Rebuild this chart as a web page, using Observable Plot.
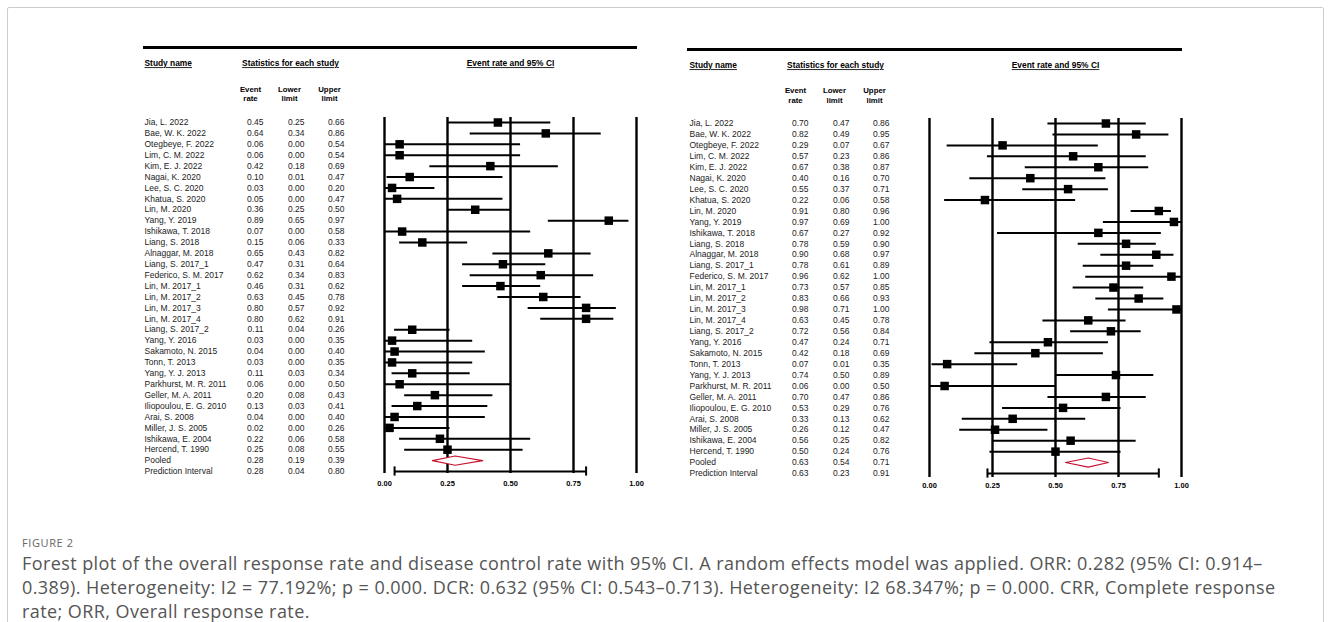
<!DOCTYPE html>
<html><head><meta charset="utf-8">
<script src="https://cdn.jsdelivr.net/npm/d3@7"></script>
<script src="https://cdn.jsdelivr.net/npm/@observablehq/plot@0.6"></script>
<style>
body{margin:0;background:#fff;width:1331px;height:622px;overflow:hidden;position:relative;font-family:"Liberation Sans",Arial,sans-serif}
#frame{position:absolute;left:7px;top:7px;width:1315px;height:700px;border:1px solid #ccc;border-radius:2px}
#left{position:absolute;left:0;top:0}
#right{position:absolute;left:660px;top:0}
#fig{position:absolute;left:22px;top:535px;font:11px "Open Sans",sans-serif;color:#666;letter-spacing:.6px}
#cap{position:absolute;left:22px;top:551px;font:18px/24px "Open Sans",sans-serif;color:#555;white-space:nowrap;letter-spacing:0.42px}
svg text{font-family:"Liberation Sans",Arial,sans-serif}
</style></head>
<body>
<div id="frame"></div>
<div id="left"></div>
<div id="right"></div>
<div id="fig">FIGURE 2</div>
<div id="cap">Forest plot of the overall response rate and disease control rate with 95% CI. A random effects model was applied. ORR: 0.282 (95% CI: 0.914–<br>0.389). Heterogeneity: I2 = 77.192%; p = 0.000. DCR: 0.632 (95% CI: 0.543–0.713). Heterogeneity: I2 68.347%; p = 0.000. CRR, Complete response<br>rate; ORR, Overall response rate.</div>
<script>
const studies = ["Jia, L. 2022","Bae, W. K. 2022","Otegbeye, F. 2022","Lim, C. M. 2022","Kim, E. J. 2022","Nagai, K. 2020","Lee, S. C. 2020","Khatua, S. 2020","Lin, M. 2020","Yang, Y. 2019","Ishikawa, T. 2018","Liang, S. 2018","Alnaggar, M. 2018","Liang, S. 2017_1","Federico, S. M. 2017","Lin, M. 2017_1","Lin, M. 2017_2","Lin, M. 2017_3","Lin, M. 2017_4","Liang, S. 2017_2","Yang, Y. 2016","Sakamoto, N. 2015","Tonn, T. 2013","Yang, Y. J. 2013","Parkhurst, M. R. 2011","Geller, M. A. 2011","Iliopoulou, E. G. 2010","Arai, S. 2008","Miller, J. S. 2005","Ishikawa, E. 2004","Hercend, T. 1990","Pooled","Prediction Interval"];

const orrRate  = [0.45,0.64,0.06,0.06,0.42,0.10,0.03,0.05,0.36,0.89,0.07,0.15,0.65,0.47,0.62,0.46,0.63,0.80,0.80,0.11,0.03,0.04,0.03,0.11,0.06,0.20,0.13,0.04,0.02,0.22,0.25,0.28,0.28];
const orrLower = [0.25,0.34,0.00,0.00,0.18,0.01,0.00,0.00,0.25,0.65,0.00,0.06,0.43,0.31,0.34,0.31,0.45,0.57,0.62,0.04,0.00,0.00,0.00,0.03,0.00,0.08,0.03,0.00,0.00,0.06,0.08,0.19,0.04];
const orrUpper = [0.66,0.86,0.54,0.54,0.69,0.47,0.20,0.47,0.50,0.97,0.58,0.33,0.82,0.64,0.83,0.62,0.78,0.92,0.91,0.26,0.35,0.40,0.35,0.34,0.50,0.43,0.41,0.40,0.26,0.58,0.55,0.39,0.80];

const dcrRate  = [0.70,0.82,0.29,0.57,0.67,0.40,0.55,0.22,0.91,0.97,0.67,0.78,0.90,0.78,0.96,0.73,0.83,0.98,0.63,0.72,0.47,0.42,0.07,0.74,0.06,0.70,0.53,0.33,0.26,0.56,0.50,0.63,0.63];
const dcrLower = [0.47,0.49,0.07,0.23,0.38,0.16,0.37,0.06,0.80,0.69,0.27,0.59,0.68,0.61,0.62,0.57,0.66,0.71,0.45,0.56,0.24,0.18,0.01,0.50,0.00,0.47,0.29,0.13,0.12,0.25,0.24,0.54,0.23];
const dcrUpper = [0.86,0.95,0.67,0.86,0.87,0.70,0.71,0.58,0.96,1.00,0.92,0.90,0.97,0.89,1.00,0.85,0.93,1.00,0.78,0.84,0.71,0.69,0.35,0.89,0.50,0.86,0.76,0.62,0.47,0.82,0.76,0.71,0.91];

const axisTicks = [0, 0.25, 0.5, 0.75, 1];
const headerStudy = "Study name";
const headerStats = "Statistics for each study";
const headerPlot = "Event rate and 95% CI";
const colHeaders = ["Event\nrate", "Lower\nlimit", "Upper\nlimit"];
const underlined = [headerStudy, headerStats, headerPlot];

const fmt = d3.format(".2f");

function panel(rate, lower, upper, cfg) {
  const rows = studies.map((name, i) => ({i, name, rate: rate[i], lower: lower[i], upper: upper[i]}));
  const n = rows.length;
  const indiv = rows.slice(0, n - 2);
  const pooled = rows[n - 2];
  const pi = rows[n - 1];
  const dh = 0.42;
  const diamond = [
    {x: pooled.lower, y: pooled.i}, {x: pooled.rate, y: pooled.i - dh},
    {x: pooled.upper, y: pooled.i}, {x: pooled.rate, y: pooled.i + dh},
    {x: pooled.lower, y: pooled.i}
  ];
  const colDx = [-121, -80, -40];
  const headDx = [-134, -95, -55];
  const zero = () => 0;
  const svg = Plot.plot({
    width: cfg.width, height: 500, margin: 0,
    style: {background: "transparent", color: "black", fontFamily: "Liberation Sans, Arial, sans-serif"},
    x: {domain: [0, 1], range: [cfg.x0, cfg.x0 + 252], axis: null},
    y: {domain: [0, n - 1], range: [cfg.row0, cfg.rowN], axis: null},
    marks: [
      // top heavy rule
      Plot.ruleY([0], {y: zero, x1: zero, x2: () => 1, dy: cfg.ruleDy, insetLeft: cfg.ruleInsetL, insetRight: -1, strokeWidth: 3.2, stroke: "black"}),
      // headers
      Plot.text([headerStudy], {x: zero, y: zero, dx: -240, dy: cfg.headDy, textAnchor: "start", fontWeight: "bold", fontSize: 8.4}),
      Plot.text([headerStats], {x: zero, y: zero, dx: -94, dy: cfg.headDy, textAnchor: "middle", fontWeight: "bold", fontSize: 8.4}),
      Plot.text([headerPlot], {x: () => 0.5, y: zero, dy: cfg.headDy, textAnchor: "middle", fontWeight: "bold", fontSize: 8.4}),
      ...colHeaders.map((h, k) => Plot.text([h], {x: zero, y: zero, dx: headDx[k], dy: cfg.subDy, textAnchor: "middle", fontWeight: "bold", fontSize: 7.8, lineHeight: 1.25})),
      // vertical reference lines
      Plot.ruleX(axisTicks, {x: d => d, y1: zero, y2: () => n - 1, insetTop: -5, insetBottom: cfg.vInsetB, strokeWidth: 2.4, stroke: "black"}),
      // confidence intervals
      Plot.ruleY(indiv, {y: "i", x1: "lower", x2: "upper", strokeWidth: 2, stroke: "black"}),
      Plot.dot(indiv, {x: "rate", y: "i", symbol: "square", r: 4.8, fill: "black", stroke: null}),
      // pooled diamond
      Plot.line(diamond, {x: "x", y: "y", stroke: "#c8102e", strokeWidth: 1.1, fill: "white"}),
      // prediction interval
      Plot.ruleY([pi], {y: "i", x1: "lower", x2: "upper", strokeWidth: 2, stroke: "black"}),
      Plot.ruleX([pi.lower, pi.upper], {x: d => d, y1: () => pi.i - dh, y2: () => pi.i + dh, strokeWidth: 2, stroke: "black"}),
      // table
      Plot.text(rows, {x: zero, y: "i", text: "name", dx: -240, textAnchor: "start", fontSize: 8.5, fill: "#222"}),
      Plot.text(rows, {x: zero, y: "i", text: d => fmt(d.rate), dx: colDx[0], textAnchor: "end", fontSize: 8.5, fill: "#222"}),
      Plot.text(rows, {x: zero, y: "i", text: d => fmt(d.lower), dx: colDx[1], textAnchor: "end", fontSize: 8.5, fill: "#222"}),
      Plot.text(rows, {x: zero, y: "i", text: d => fmt(d.upper), dx: colDx[2], textAnchor: "end", fontSize: 8.5, fill: "#222"}),
      // tick labels
      Plot.text(axisTicks, {x: d => d, y: () => n - 1, dy: 12, text: d => fmt(d), fontWeight: "bold", fontSize: 7.5})
    ]
  });
  d3.select(svg).selectAll("text")
    .filter(function() { return underlined.includes(this.textContent); })
    .attr("text-decoration", "underline");
  return svg;
}

document.getElementById("left").append(panel(orrRate, orrLower, orrUpper,
  {width: 660, x0: 384, row0: 122, rowN: 471, ruleDy: -75, ruleInsetL: -241, headDy: -59, subDy: -29, vInsetB: -2}));
document.getElementById("right").append(panel(dcrRate, dcrLower, dcrUpper,
  {width: 671, x0: 269, row0: 123, rowN: 473, ruleDy: -74, ruleInsetL: -242, headDy: -58, subDy: -28.5, vInsetB: -4}));
</script>
</body></html>
